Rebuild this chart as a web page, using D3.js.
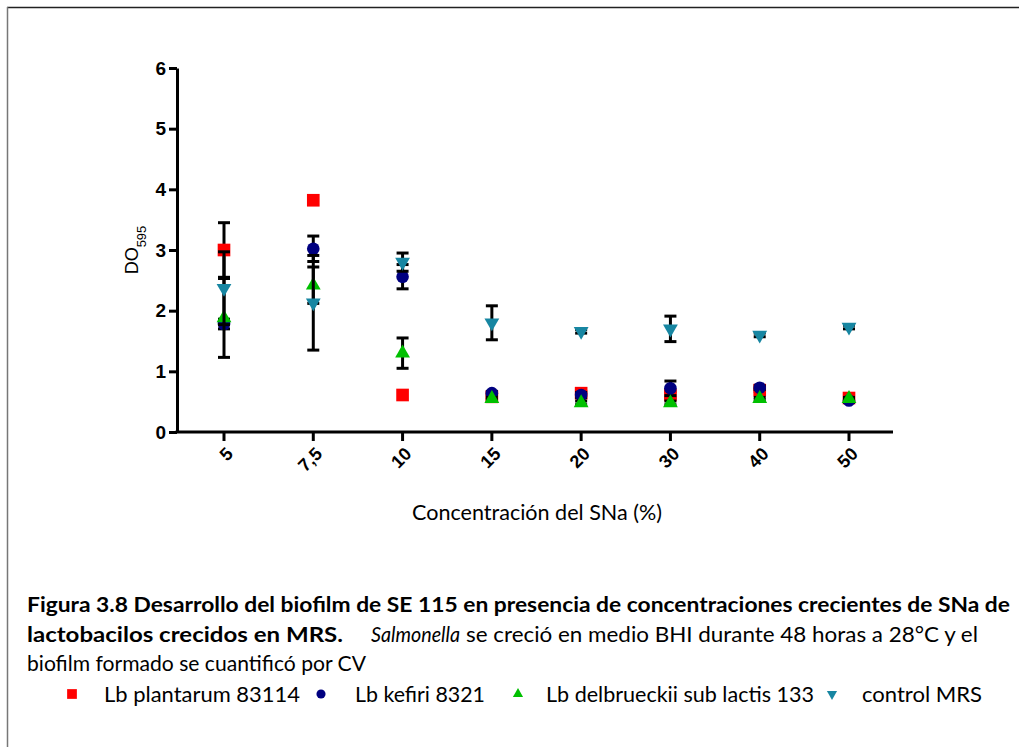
<!DOCTYPE html>
<html>
<meta charset="utf-8">
<title>Biofilm SE 115</title>
<script src="https://d3js.org/d3.v7.min.js" charset="utf-8"></script>
<style>
	body { margin: 0; background: #fff; }
	.axis path, .axis line { stroke: #000; stroke-width: 3; }
	.axis text { font-family: "Liberation Sans", Arial, sans-serif; font-weight: bold; fill: #000; }
	.cap { font-family: Lato, "Open Sans", sans-serif; fill: #000; }
</style>
<body>
<script>

	// concentrations on the x axis
	var categories = ["5", "7,5", "10", "15", "20", "30", "40", "50"];
	var yTicks = [0, 1, 2, 3, 4, 5, 6];

	// DO595 means and error bars
	var plantarum     = [3.00, 3.82, 0.61, 0.58, 0.64, 0.61, 0.69, 0.56];
	var plantarumSD   = [0.45, 0.00, 0.00, 0.03, 0.03, 0.05, 0.02, 0.02];
	var kefiri        = [1.78, 3.02, 2.56, 0.64, 0.61, 0.72, 0.73, 0.52];
	var kefiriSD      = [0.08, 0.21, 0.20, 0.03, 0.04, 0.12, 0.03, 0.03];
	var delbrueckii   = [1.88, 2.42, 1.30, 0.55, 0.48, 0.48, 0.55, 0.55];
	var delbrueckiiSD = [0.65, 0.30, 0.25, 0.02, 0.03, 0.03, 0.02, 0.02];
	var controlMRS    = [2.37, 2.13, 2.80, 1.80, 1.66, 1.70, 1.60, 1.73];
	var controlSD     = [0.60, 0.78, 0.15, 0.28, 0.03, 0.21, 0.03, 0.03];

	var seriesNames = ["Lb plantarum 83114", "Lb kefiri 8321", "Lb delbrueckii sub lactis 133", "control MRS"];

	var series = [
		{name: seriesNames[0], values: plantarum, sd: plantarumSD, color: "#ff0000", symbol: d3.symbolSquare, size: 160, legSize: 95},
		{name: seriesNames[1], values: kefiri, sd: kefiriSD, color: "#000080", symbol: d3.symbolCircle, size: 125, legSize: 65},
		{name: seriesNames[2], values: delbrueckii, sd: delbrueckiiSD, color: "#00c000", symbol: d3.symbolTriangle, size: 95, legSize: 45},
		{name: seriesNames[3], values: controlMRS, sd: controlSD, color: "#1786a2", symbol: d3.symbolTriangle, size: 95, legSize: 45, flip: true}
	];

	var width = 1019, height = 747;
	var plot = {left: 177, right: 893, top: 68, bottom: 432};

	var svg = d3.select("body").append("svg")
		.attr("width", width)
		.attr("height", height);

	// page frame
	svg.append("line").attr("x1", 7).attr("x2", width).attr("y1", 7.5).attr("y2", 7.5)
		.attr("stroke", "#222").attr("stroke-width", 1.5);
	svg.append("line").attr("x1", 7.5).attr("x2", 7.5).attr("y1", 7).attr("y2", height)
		.attr("stroke", "#777").attr("stroke-width", 1.5);

	var x = d3.scalePoint().domain(categories).range([224, 849]);
	var y = d3.scaleLinear().domain([0, 6]).range([plot.bottom, plot.top]);

	/* y axis */
	var yAxis = svg.append("g")
		.attr("class", "axis")
		.attr("transform", "translate(" + plot.left + ",0)")
		.call(d3.axisLeft(y).tickValues(yTicks).tickFormat(d3.format("d")).tickSize(8).tickSizeOuter(0).tickPadding(3));
	yAxis.selectAll("text").style("font-size", "19px");

	/* x axis */
	var xAxis = svg.append("g")
		.attr("class", "axis")
		.attr("transform", "translate(0," + plot.bottom + ")");
	xAxis.append("line")
		.attr("x1", plot.left - 1.5).attr("x2", plot.right);
	var xt = xAxis.selectAll(".tick")
		.data(categories)
		.enter().append("g")
		.attr("class", "tick")
		.attr("transform", function(d) { return "translate(" + x(d) + ",0)"; });
	xt.append("line").attr("y2", 9);
	xt.append("text")
		.attr("transform", "translate(1,14) rotate(-45)")
		.attr("text-anchor", "end")
		.attr("dy", "0.71em")
		.style("font-size", "18px")
		.text(function(d) { return d; });

	/* axis titles */
	var ylg = svg.append("g").attr("transform", "translate(138,250) rotate(-90)");
	var yl = ylg.append("text")
		.attr("x", 0).attr("y", 0)
		.attr("text-anchor", "middle")
		.style("font-family", "'Liberation Sans', Arial, sans-serif")
		.style("font-size", "18px");
	yl.append("tspan").text("DO");
	yl.append("tspan").attr("baseline-shift", "sub").style("font-size", "13px").text("595");

	svg.append("text")
		.attr("class", "cap")
		.attr("x", 412).attr("y", 520)
		.attr("textLength", 250).attr("lengthAdjust", "spacingAndGlyphs")
		.style("font-size", "21px")
		.text("Concentración del SNa (%)");

	/* points with error bars */
	series.forEach(function(s) {
		var g = svg.append("g");
		var rows = categories.map(function(c, i) { return {c: c, v: s.values[i], e: s.sd[i]}; });
		var eb = g.selectAll(".err")
			.data(rows.filter(function(d) { return d.e > 0; }))
			.enter().append("g")
			.attr("stroke", "#000").attr("stroke-width", 3);
		eb.append("line")
			.attr("x1", function(d) { return x(d.c); }).attr("x2", function(d) { return x(d.c); })
			.attr("y1", function(d) { return y(d.v - d.e); }).attr("y2", function(d) { return y(d.v + d.e); });
		[-1, 1].forEach(function(k) {
			eb.append("line")
				.attr("x1", function(d) { return x(d.c) - 6; }).attr("x2", function(d) { return x(d.c) + 6; })
				.attr("y1", function(d) { return y(d.v + k * d.e); }).attr("y2", function(d) { return y(d.v + k * d.e); });
		});
		g.selectAll(".pt")
			.data(rows)
			.enter().append("path")
			.attr("d", d3.symbol().type(s.symbol).size(s.size)())
			.attr("fill", s.color)
			.attr("transform", function(d) {
				return "translate(" + x(d.c) + "," + y(d.v) + ")" + (s.flip ? " rotate(180)" : "");
			});
	});

	/* caption */
	var cap = svg.append("g").attr("class", "cap").style("font-size", "21px");
	cap.append("text")
		.attr("x", 27).attr("y", 612)
		.attr("textLength", 983).attr("lengthAdjust", "spacingAndGlyphs")
		.style("font-weight", "bold")
		.text("Figura 3.8 Desarrollo del biofilm de SE 115 en presencia de concentraciones crecientes de SNa de");
	cap.append("text")
		.attr("x", 27).attr("y", 642)
		.attr("textLength", 316).attr("lengthAdjust", "spacingAndGlyphs")
		.style("font-weight", "bold")
		.text("lactobacilos crecidos en MRS.");
	cap.append("text")
		.attr("x", 371).attr("y", 642)
		.attr("textLength", 89).attr("lengthAdjust", "spacingAndGlyphs")
		.style("font-style", "italic")
		.text("Salmonella");
	cap.append("text")
		.attr("x", 466).attr("y", 642)
		.attr("textLength", 512).attr("lengthAdjust", "spacingAndGlyphs")
		.text("se creció en medio BHI durante 48 horas a 28°C y el");
	cap.append("text")
		.attr("x", 27).attr("y", 671)
		.attr("textLength", 339).attr("lengthAdjust", "spacingAndGlyphs")
		.text("biofilm formado se cuantificó por CV");

	/* legend */
	var legX = [72, 321, 518, 832], legTextX = [104, 355, 546, 862], legTextW = [196, 130, 268, 120];
	var leg = svg.append("g");
	series.forEach(function(s, i) {
		leg.append("path")
			.attr("d", d3.symbol().type(s.symbol).size(s.legSize)())
			.attr("fill", s.color)
			.attr("transform", "translate(" + legX[i] + ",694)" + (s.flip ? " rotate(180)" : ""));
		leg.append("text")
			.attr("class", "cap")
			.attr("x", legTextX[i]).attr("y", 702)
			.attr("textLength", legTextW[i]).attr("lengthAdjust", "spacingAndGlyphs")
			.style("font-size", "21px")
			.text(s.name);
	});

</script>
</body>
</html>
